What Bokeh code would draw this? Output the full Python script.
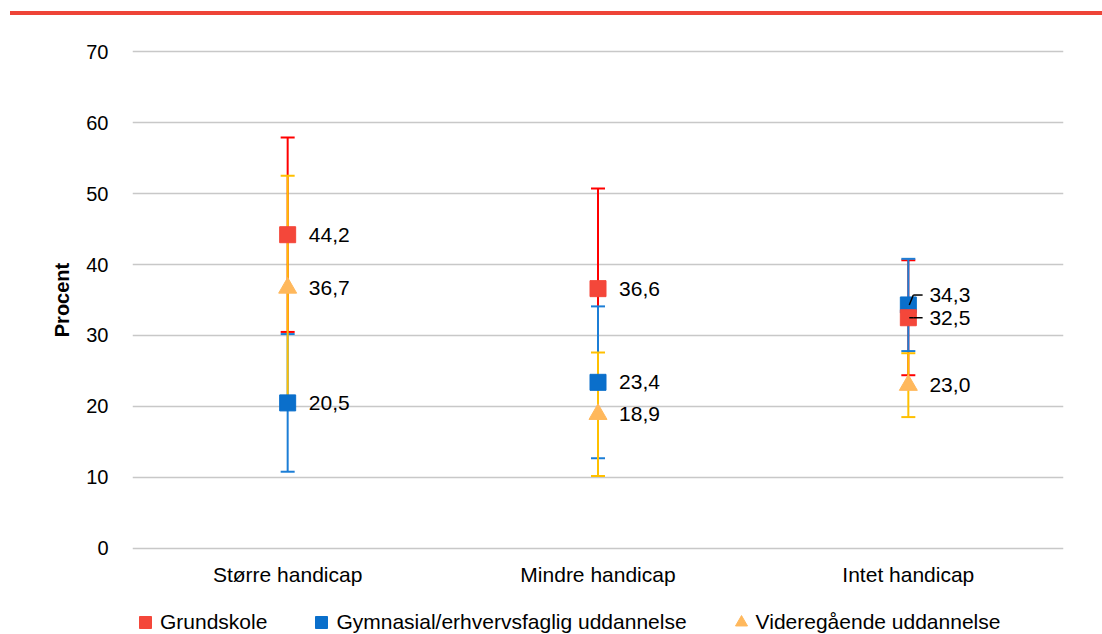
from bokeh.plotting import figure
from bokeh.models import (ColumnDataSource, Legend, LegendItem,
                          Div, FactorRange, SingleIntervalTicker, Range1d)
from bokeh.transform import dodge
from bokeh.layouts import column
from bokeh.embed import file_html
from bokeh.resources import INLINE
from bokeh.core.properties import value

# ---------------- data ----------------
categories = ["Større handicap", "Mindre handicap", "Intet handicap"]

grundskole = [44.2, 36.6, 32.5]
grundskole_err = [13.7, 14.1, 8.1]

gymnasial = [20.5, 23.4, 34.3]
gymnasial_err = [9.7, 10.7, 6.5]

videregaaende = [36.7, 18.9, 23.0]
videregaaende_err = [15.8, 8.7, 4.5]

series_names = ["Grundskole", "Gymnasial/erhvervsfaglig uddannelse", "Videregående uddannelse"]
y_label = "Procent"

# ---------------- style ----------------
FONT = "Liberation Sans"
W = 1102
marker_colors = ["#F4473A", "#0A6FCB", "#FFB85C"]
bar_colors = ["#FF0000", "#1C7ED6", "#FFC000"]
markers = ["square", "square", "triangle"]
label_dy = {  # screen-pixel vertical shift of some data labels (collision avoidance)
    ("Intet handicap", 1): -10,
}
LEADER_RISE = 1.4  # data units the 34,3 label is lifted

p = figure(x_range=FactorRange(*categories), y_range=Range1d(-0.3, 70.3),
           width=W, height=573, output_backend="svg", toolbar_location=None,
           min_border_top=34, min_border_bottom=38, min_border_left=132, min_border_right=39)
p.outline_line_color = None
p.background_fill_color = "white"
p.border_fill_color = "white"

p.yaxis.ticker = SingleIntervalTicker(interval=10)
p.ygrid.grid_line_color = "#C8C8C8"
p.ygrid.grid_line_width = 1.5
p.xgrid.grid_line_color = None
for ax in (p.xaxis, p.yaxis):
    ax.axis_line_color = None
    ax.major_tick_line_color = None
    ax.minor_tick_line_color = None
    ax.major_tick_out = 0
    ax.major_label_text_font = FONT
    ax.major_label_text_color = "#000000"
p.yaxis.major_label_text_font_size = "20px"
p.xaxis.major_label_text_font_size = "21px"
p.yaxis.major_label_standoff = 20
p.xaxis.major_label_standoff = 12
p.yaxis.axis_label = y_label
p.yaxis.axis_label_text_font = FONT
p.yaxis.axis_label_text_font_size = "20px"
p.yaxis.axis_label_text_font_style = "bold"
p.yaxis.axis_label_text_color = "#000000"
p.yaxis.axis_label_standoff = 10

all_vals = [grundskole, gymnasial, videregaaende]
all_errs = [grundskole_err, gymnasial_err, videregaaende_err]

sources = []
for i, (vals, errs) in enumerate(zip(all_vals, all_errs)):
    dy = [label_dy.get((c, i), 0) for c in categories]
    src = ColumnDataSource(dict(
        x=categories, y=vals,
        lower=[v - e for v, e in zip(vals, errs)],
        upper=[v + e for v, e in zip(vals, errs)],
        label=[f"{v:.1f}".replace(".", ",") for v in vals],
        dy=dy,
    ))
    sources.append(src)

# error bars (drawn first; red, blue, yellow)
for i, src in enumerate(sources):
    p.segment(x0="x", y0="lower", x1="x", y1="upper", source=src,
              line_color=bar_colors[i], line_width=2)
    for col in ("lower", "upper"):
        p.scatter(x="x", y=col, source=src, marker="dash", size=14,
                  line_color=bar_colors[i], line_width=2)

# markers: blue, yellow, red on top
for i in [1, 2, 0]:
    size = 16 if markers[i] == "square" else 18
    p.scatter(x="x", y="y", source=sources[i], marker=markers[i], size=size,
              fill_color=marker_colors[i], line_color=marker_colors[i])

# data labels
for i, src in enumerate(sources):
    p.text(x=dodge("x", 0.068, range=p.x_range), y="y", text="label", source=src,
           y_offset="dy", text_font=value(FONT), text_font_size="21px",
           text_align="left", text_baseline="middle", text_color="#000000")

# leader lines for the shifted labels at "Intet handicap"
idx = categories.index("Intet handicap")
y_pts = [gymnasial[idx], grundskole[idx]]
y_knee = [gymnasial[idx] + LEADER_RISE, grundskole[idx]]
lead_src = ColumnDataSource(dict(x=[categories[idx]] * 2, y=y_pts, yk=y_knee))
p.segment(x0=dodge("x", 0.003, range=p.x_range), y0="y",
          x1=dodge("x", 0.016, range=p.x_range), y1="yk",
          source=lead_src, line_color="#000000", line_width=1.5)
p.segment(x0=dodge("x", 0.016, range=p.x_range), y0="yk",
          x1=dodge("x", 0.046, range=p.x_range), y1="yk",
          source=lead_src, line_color="#000000", line_width=1.5)

# ---------------- legend strip (own canvas below the chart) ----------------
lg = figure(width=W, height=46, x_range=(0, 1), y_range=(0, 1),
            x_axis_location=None, y_axis_location=None,
            output_backend="svg", toolbar_location=None, min_border=0)
lg.grid.visible = False
lg.outline_line_color = None
proxy = ColumnDataSource(dict(x=[-1], y=[-1]))  # off-canvas proxy, only feeds the legend glyphs
items = []
for i in range(3):
    r = lg.scatter(x="x", y="y", source=proxy, marker=markers[i],
                   fill_color=marker_colors[i], line_color=marker_colors[i])
    items.append(LegendItem(label=series_names[i], renderers=[r]))
legend = Legend(items=items, orientation="horizontal", location=(-2, -3),
                label_text_font=FONT, label_text_font_size="21px", label_text_color="#000000",
                glyph_width=30, glyph_height=30, label_standoff=-4, spacing=39,
                border_line_color=None, background_fill_alpha=0, margin=0, padding=0)
lg.add_layout(legend)

red_line = Div(text="", width=W - 10, height=4, margin=(11, 0, 0, 10),
               styles={"background-color": "#EE4437"})

layout = column(red_line, p, lg, spacing=0)
open("out.html", "w").write(file_html(layout, INLINE))
